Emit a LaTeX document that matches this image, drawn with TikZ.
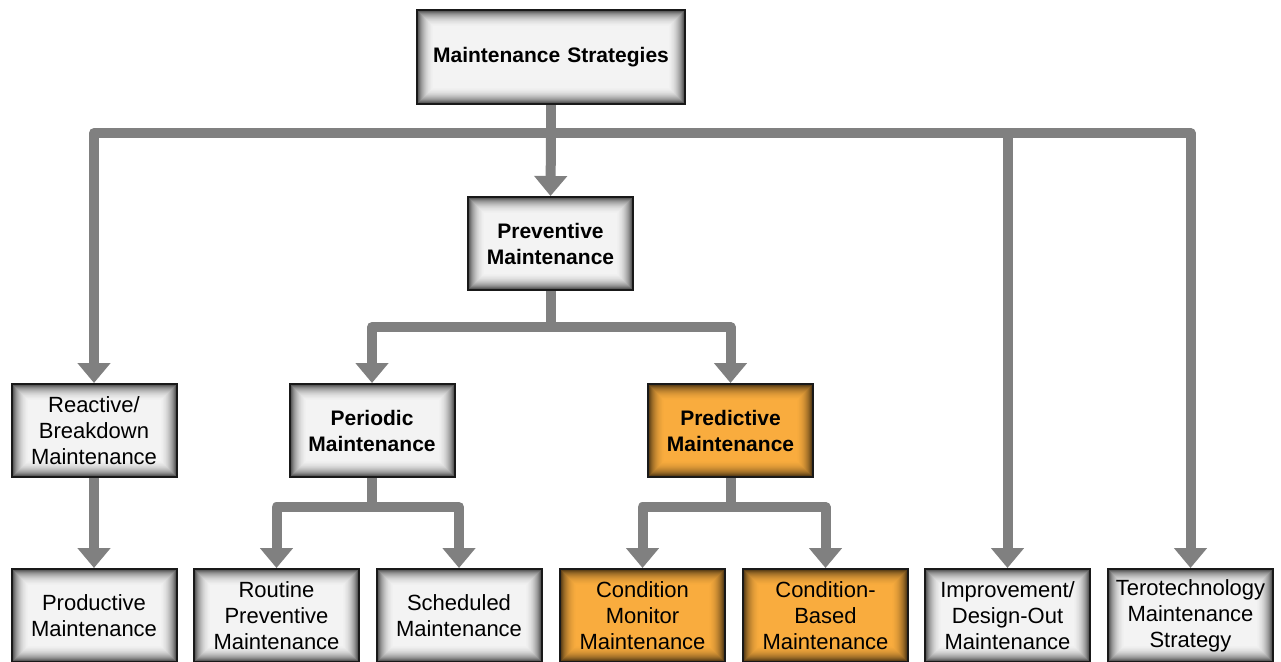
\documentclass[tikz,border=0pt]{standalone}
\usepackage{fontspec}
\setmainfont{Liberation Sans}
\usetikzlibrary{arrows.meta}
\pgfdeclarelayer{bg}
\pgfsetlayers{bg,main}
\definecolor{boxgray}{RGB}{243,243,243}
\definecolor{boxorange}{RGB}{249,172,62}
\definecolor{linkgray}{RGB}{128,128,128}
\tikzset{
  vignette/.style={fill=#1, path picture={
    \foreach \i/\p in {0/72,1/62,2/53,3/45,4/38,5/32,6/27,7/22,8/18,9/14,10/11,11/8,12/6,13/4,14/2,15/1,16/0}{
      \fill[black!\p!#1] ([xshift=\i pt,yshift=\i pt]path picture bounding box.south west)
        rectangle ([xshift=-\i pt,yshift=-\i pt]path picture bounding box.north east);
    }}},
  box/.style={draw=black!90, line width=2pt, minimum width=165pt, minimum height=93pt,
    inner sep=0pt, align=center, text width=160pt, vignette=boxgray,
    font=\fontsize{22}{26}\selectfont},
  hot/.style={vignette=boxorange},
  strong/.style={font=\fontsize{21}{26}\selectfont\bfseries},
  conn/.style={draw=linkgray, line width=10pt, line cap=round, line join=round},
  arr/.style={conn, -{Triangle[width=32pt,length=20pt]}},
}
\begin{document}
\begin{tikzpicture}[x=1pt,y=-1pt]
\useasboundingbox (0,0) rectangle (1281,661);
% top and middle levels
\node[box,strong,minimum width=268pt,minimum height=94pt,text width=260pt] (root) at (551,57) {Maintenance Strategies};
\node[box,strong] (prev) at (550.5,243.5) {Preventive\\Maintenance};
\node[box] (react) at (94,430.5) {Reactive/\\Breakdown\\Maintenance};
\node[box,strong] (period) at (372,430.5) {Periodic\\Maintenance};
\node[box,strong,hot] (pred) at (730.5,430.5) {Predictive\\Maintenance};
% bottom row
\node[box] (prod) at (94,615.5) {Productive\\Maintenance};
\node[box] (routine) at (276.5,615.5) {Routine\\Preventive\\Maintenance};
\node[box] (sched) at (459,615.5) {Scheduled\\Maintenance};
\node[box,hot] (cmon) at (642.5,615.5) {Condition\\Monitor\\Maintenance};
\node[box,hot] (cbm) at (825.5,615.5) {Condition-\\Based\\Maintenance};
\node[box] (impr) at (1007.5,615.5) {Improvement/\\Design-Out\\Maintenance};
\node[box] (tero) at (1190.5,615.5) {Terotechnology\\Maintenance\\Strategy};
% connectors behind the boxes
\begin{pgfonlayer}{bg}
\coordinate (busA) at (0,133);
\draw[arr] (root.south) -- (root.south |- busA) -| (react.north);
\draw[arr] (root.south |- busA) -- (prev.north);
\draw[arr] (root.south |- busA) -| (impr.north);
\draw[arr] (root.south |- busA) -| (tero.north);
\coordinate (busB) at (0,327);
\draw[arr] (prev.south) -- (prev.south |- busB) -| (period.north);
\draw[arr] (prev.south |- busB) -| (pred.north);
\draw[arr] (react.south) -- (prod.north);
\coordinate (busC) at (0,507);
\draw[arr] (period.south) -- (period.south |- busC) -| (routine.north);
\draw[arr] (period.south |- busC) -| (sched.north);
\draw[arr] (pred.south) -- (pred.south |- busC) -| (cmon.north);
\draw[arr] (pred.south |- busC) -| (cbm.north);
\end{pgfonlayer}
\end{tikzpicture}
\end{document}
